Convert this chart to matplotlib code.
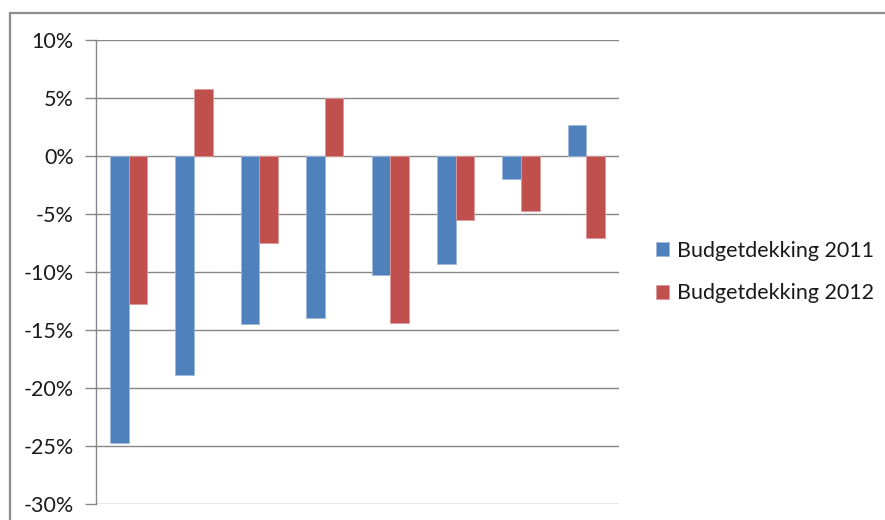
import matplotlib.pyplot as plt
import numpy as np
from matplotlib.patches import Rectangle
from matplotlib.ticker import FuncFormatter, MultipleLocator

# values (percent)
groups = np.arange(8)
budget_2011 = [-24.8, -18.9, -14.5, -14.0, -10.3, -9.3, -2.0, 2.7]
budget_2012 = [-12.8, 5.8, -7.5, 5.0, -14.4, -5.5, -4.8, -7.1]
series_names = ["Budgetdekking 2011", "Budgetdekking 2012"]

blue = "#4F81BD"
red = "#C0504D"
grid_col = "#878787"

plt.rcParams['font.family'] = ['Lato', 'DejaVu Sans']

fig = plt.figure(figsize=(8.85, 5.2), dpi=100)
ax = fig.add_axes([96 / 885, 1 - 503.5 / 520, (619 - 96) / 885, (503.5 - 40) / 520])

# outer chart frame, cut off at right and bottom like the reference
fig.patches.append(Rectangle((9.5 / 885, -0.1), 1.2, 1 - 13 / 520 + 0.1,
                             transform=fig.transFigure, fill=False,
                             edgecolor="#8c8c8c", linewidth=1.6))

w = 1 / 3.5
b1 = ax.bar(groups - w / 2, budget_2011, w, color=blue, edgecolor="#9db8da",
            linewidth=0.6, label=series_names[0], zorder=3)
b2 = ax.bar(groups + w / 2, budget_2012, w, color=red, edgecolor="#dc9a98",
            linewidth=0.6, label=series_names[1], zorder=3)

ax.set_xlim(-0.5, 7.5)
ax.set_ylim(-30, 10)
ax.yaxis.set_major_locator(MultipleLocator(5))
ax.yaxis.set_major_formatter(FuncFormatter(lambda v, p: f"{v:.0f}%"))
ax.yaxis.grid(True, color=grid_col, linewidth=1.0, zorder=0)
ax.set_xticks([])

for s in ["top", "right", "bottom"]:
    ax.spines[s].set_visible(False)
ax.spines["left"].set_color(grid_col)
ax.spines["left"].set_linewidth(1.0)
ax.tick_params(axis="y", length=8, width=1.0, color=grid_col, labelsize=15.5,
               pad=8, labelcolor="#1a1a1a")

ax.legend(loc="center left", bbox_to_anchor=(637 / 885, 1 - 272 / 520),
          bbox_transform=fig.transFigure, frameon=False, fontsize=15.5,
          handlelength=0.6, handleheight=0.6, handletextpad=0.35,
          labelspacing=1.05, labelcolor="#1a1a1a")

fig.savefig("out.png", dpi=100)
